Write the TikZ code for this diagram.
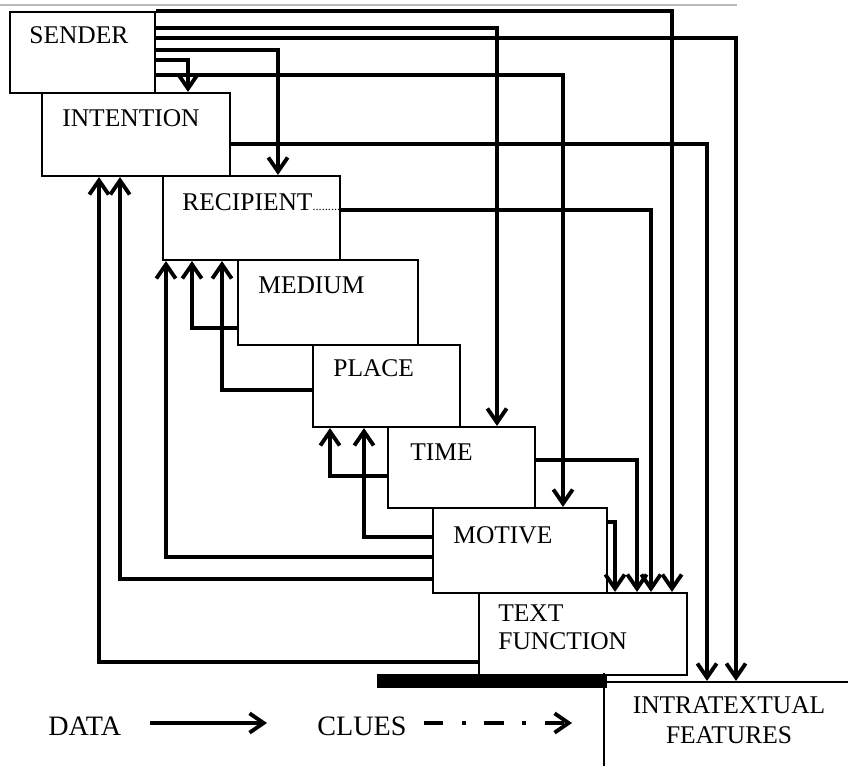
\documentclass[tikz,border=0pt]{standalone}
\usepackage{fontspec}
\setmainfont{Liberation Serif}
\usetikzlibrary{arrows.meta,fit}

\begin{document}
\begin{tikzpicture}[x=0.02cm,y=-0.02cm,box/.style={draw,line width=1.2pt,inner sep=0pt},boxtext/.style={anchor=west,inner sep=0pt,font=\fontsize{14.5}{16}\selectfont},legend/.style={anchor=west,inner sep=0pt,font=\fontsize{16}{18}\selectfont},data/.style={-{Straight Barb[length=8pt,width=11pt]},line width=2.2pt},clues/.style={data,dash pattern=on 11pt off 10.5pt on 2.4pt off 10.5pt}]
 \useasboundingbox (0,0) rectangle (848,766);
 \draw[gray!55,line width=1.1pt] (0,5)--(737,5);
 % staircase of boxes
 \node[box,fit={(10,12)(155,93)}] (sender) {};
 \node[box,fit={(42,93)(230,176)}] (intention) {};
 \node[box,fit={(163,176)(340,260)}] (recipient) {};
 \node[box,fit={(238,260)(418,345)}] (medium) {};
 \node[box,fit={(313,345)(460,427)}] (place) {};
 \node[box,fit={(388,427)(535,508)}] (time) {};
 \node[box,fit={(433,508)(607,593)}] (motive) {};
 \node[box,fit={(479,593)(687,675)}] (textfn) {};
 \node[box,fit={(604,682)(870,790)}] (intra) {};
 \draw[line width=8pt] (377,681)--(607,681);
 \draw[line width=1.2pt] (604,673)--(604,682);
 % labels
 \node[boxtext] (sender-t) at (29,35) {SENDER};
 \node[boxtext] (intention-t) at (62,118) {INTENTION};
 \node[boxtext] (recipient-t) at (182,202) {RECIPIENT{\fontsize{7}{8}\selectfont.........}};
 \node[boxtext] (medium-t) at (258,285) {MEDIUM};
 \node[boxtext] (place-t) at (333,368) {PLACE};
 \node[boxtext] (time-t) at (410,452) {TIME};
 \node[boxtext] (motive-t) at (453,535) {MOTIVE};
 \node[boxtext,align=left,font=\fontsize{14.5}{16}\selectfont] (textfn-t) at (498,627.5) {TEXT\\FUNCTION};
 \node[boxtext,anchor=center,align=center,font=\fontsize{14.5}{17}\selectfont] (intra-t) at (729,720) {INTRATEXTUAL\\FEATURES};
 % sender outputs
 \draw[data] (sender.north east)-|(textfn.north -| 672,0);
 \draw[data] (sender.east |- 0,28)-|(time.north -| 497,0);
 \draw[data] (sender.east |- 0,38)-|(intra.north -| 736,0);
 \draw[data] (sender.east |- 0,50)-|(recipient.north -| 278,0);
 \draw[data] (sender.east |- 0,60)-|(intention.north -| 188,0);
 \draw[data] (sender.east |- 0,75)-|(motive.north -| 563,0);
 % other outputs
 \draw[data] (intention.east |- 0,144)-|(intra.north -| 707,0);
 \draw[data] (recipient.east |- 0,210)-|(textfn.north -| 651,0);
 \draw[data] (time.east |- 0,460)-|(textfn.north -| 637,0);
 \draw[data] (motive.east |- 0,522)-|(textfn.north -| 615,0);
 % feedback upwards
 \draw[data] (textfn.west |- 0,662)-|(intention.south -| 99,0);
 \draw[data] (motive.west |- 0,579)-|(intention.south -| 120,0);
 \draw[data] (motive.west |- 0,557)-|(recipient.south -| 166,0);
 \draw[data] (medium.west |- 0,328)-|(recipient.south -| 192,0);
 \draw[data] (place.west |- 0,390)-|(recipient.south -| 222,0);
 \draw[data] (time.west |- 0,476)-|(place.south -| 330,0);
 \draw[data] (motive.west |- 0,537)-|(place.south -| 364,0);
 % legend
 \node[legend] (data-t) at (48,726) {DATA};
 \node[legend] (clues-t) at (317,726) {CLUES};
 \coordinate (data-from) at (150,723);
 \coordinate (data-to) at (267,723);
 \coordinate (clues-from) at (424,723);
 \coordinate (clues-to) at (572,723);
 \draw[data] (data-from)--(data-to);
 \draw[clues] (clues-from)--(clues-to);
\end{tikzpicture}
\end{document}
